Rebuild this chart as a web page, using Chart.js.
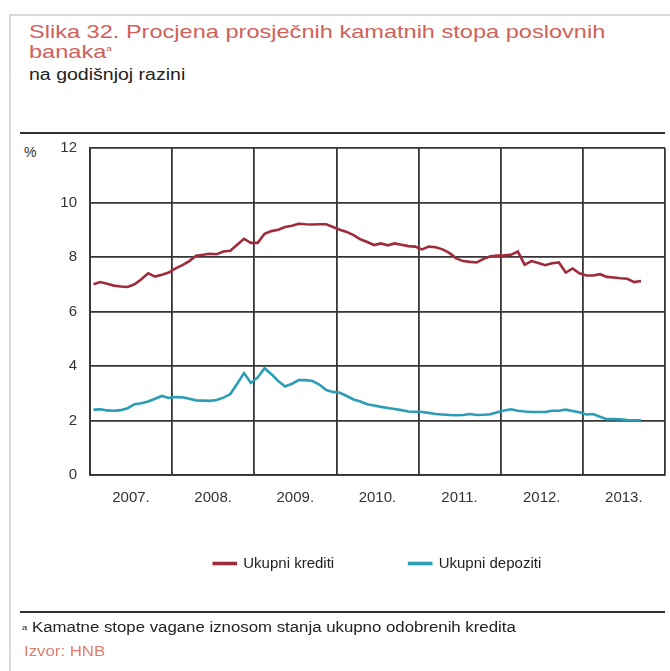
<!DOCTYPE html>
<html><head><meta charset="utf-8">
<script src="https://cdn.jsdelivr.net/npm/chart.js@4.4.1/dist/chart.umd.min.js"></script>
<style>
html,body{margin:0;padding:0;background:#fff;}
body{width:670px;height:671px;position:relative;overflow:hidden;font-family:'Liberation Sans',Arial,sans-serif;}
#frame{position:absolute;left:9px;top:14px;width:700px;height:700px;border-top:2px solid #d9d9d9;border-left:2px solid #d9d9d9;}
.stretch{transform-origin:0 0;white-space:nowrap;}
#title{position:absolute;left:29px;top:22px;font-size:19px;line-height:20px;color:#d0615a;transform:scaleX(1.24);}
#title sup{font-size:8px;vertical-align:top;line-height:8px;position:relative;top:3px;}
#sub{position:absolute;left:29px;top:66px;font-size:16px;line-height:18px;color:#222;transform:scaleX(1.22);}
.rule{position:absolute;left:20px;width:645px;height:0;border-top:2px solid #333;}
#pct{position:absolute;left:24px;top:144px;font-size:14px;color:#333;}
#note{position:absolute;left:22px;top:619px;font-size:14px;line-height:16px;color:#222;transform:scaleX(1.2);}
#note sup{font-size:8px;vertical-align:top;position:relative;top:1px;}
#src{position:absolute;left:24px;top:643px;font-size:14px;line-height:16px;color:#e07c6e;transform:scaleX(1.2);}
canvas{position:absolute;left:0;top:0;}
</style></head>
<body>
<div id="frame"></div>
<div id="title" class="stretch">Slika 32. Procjena prosječnih kamatnih stopa poslovnih<br>banaka<sup>a</sup></div>
<div id="sub" class="stretch">na godišnjoj razini</div>
<div class="rule" style="top:132px"></div>
<div id="pct">%</div>
<canvas id="c" width="670" height="671"></canvas>
<div class="rule" style="top:611px"></div>
<div id="note" class="stretch"><sup>a</sup> Kamatne stope vagane iznosom stanja ukupno odobrenih kredita</div>
<div id="src" class="stretch">Izvor: HNB</div>
<script>
// Monthly values, Jan 2007 – Sep 2013
const years = ['2007.','2008.','2009.','2010.','2011.','2012.','2013.'];
const yTicks = [0,2,4,6,8,10,12];
const seriesNames = ['Ukupni krediti','Ukupni depoziti'];
const krediti = [
  7.00,7.08,7.02,6.95,6.92,6.90,7.00,7.18,7.40,7.28,7.35,7.43,
  7.58,7.70,7.85,8.05,8.08,8.12,8.10,8.20,8.23,8.45,8.67,8.52,
  8.52,8.85,8.95,9.00,9.10,9.15,9.22,9.20,9.19,9.20,9.20,9.10,
  9.00,8.92,8.80,8.65,8.55,8.44,8.50,8.43,8.50,8.45,8.40,8.38,
  8.28,8.38,8.36,8.28,8.15,7.95,7.85,7.82,7.80,7.93,8.03,8.05,
  8.06,8.08,8.20,7.72,7.85,7.78,7.70,7.77,7.80,7.43,7.58,7.40,
  7.32,7.32,7.37,7.27,7.25,7.22,7.20,7.08,7.12
];
const depoziti = [
  2.40,2.41,2.37,2.36,2.38,2.45,2.60,2.63,2.70,2.80,2.90,2.83,
  2.86,2.85,2.80,2.74,2.73,2.72,2.75,2.84,2.97,3.35,3.74,3.38,
  3.58,3.92,3.70,3.45,3.25,3.35,3.48,3.48,3.45,3.32,3.12,3.05,
  3.02,2.90,2.77,2.70,2.60,2.55,2.50,2.46,2.42,2.38,2.33,2.32,
  2.31,2.28,2.24,2.22,2.20,2.19,2.20,2.24,2.20,2.21,2.23,2.30,
  2.37,2.41,2.36,2.33,2.31,2.31,2.31,2.36,2.36,2.40,2.35,2.30,
  2.22,2.24,2.14,2.05,2.05,2.04,2.02,2.01,2.01
];
const colors = ['#a02b3a','#2b9db5'];

const toPts = arr => arr.map((v,i)=>({x:i+0.5,y:v}));
const fam = "'Liberation Sans',Arial,sans-serif";

new Chart(document.getElementById('c'), {
  type:'line',
  data:{datasets:[
    {label:seriesNames[0],data:toPts(krediti),borderColor:colors[0],backgroundColor:colors[0],borderWidth:2.6,pointRadius:0,tension:0},
    {label:seriesNames[1],data:toPts(depoziti),borderColor:colors[1],backgroundColor:colors[1],borderWidth:2.6,pointRadius:0,tension:0}
  ]},
  options:{
    responsive:false,animation:false,devicePixelRatio:1,
    layout:{padding:{left:20,right:5,top:148,bottom:90}},
    plugins:{
      tooltip:{enabled:false},
      legend:{position:'bottom',fullSize:false,
        labels:{boxWidth:22,boxHeight:1,padding:75,color:'#222',font:{family:fam,size:15}}}
    },
    scales:{
      x:{type:'linear',min:0,max:years.length*12,
        afterBuildTicks:s=>{s.ticks=[];for(let i=0;i<=years.length;i++)s.ticks.push({value:i*12});},
        afterFit:s=>{s.height=6;s.paddingLeft=0;s.paddingRight=0;},
        grid:{color:'#353535',lineWidth:1.8,drawTicks:false},
        border:{color:'#353535',width:1.8},
        ticks:{mirror:true,padding:-32,labelOffset:41,maxRotation:0,autoSkip:false,color:'#333',
          font:{family:fam,size:15},
          callback:(v)=>years[Math.round(v/12)]||''}
      },
      y:{min:0,max:12,
        afterBuildTicks:s=>{s.ticks=yTicks.map(v=>({value:v}));},
        afterFit:s=>{s.width=70;s.paddingTop=0;s.paddingBottom=0;},
        grid:{color:'#353535',lineWidth:1.8,drawTicks:false},
        border:{color:'#353535',width:1.8},
        ticks:{padding:13,color:'#333',font:{family:fam,size:15}}
      }
    }
  }
});
</script>
</body></html>
